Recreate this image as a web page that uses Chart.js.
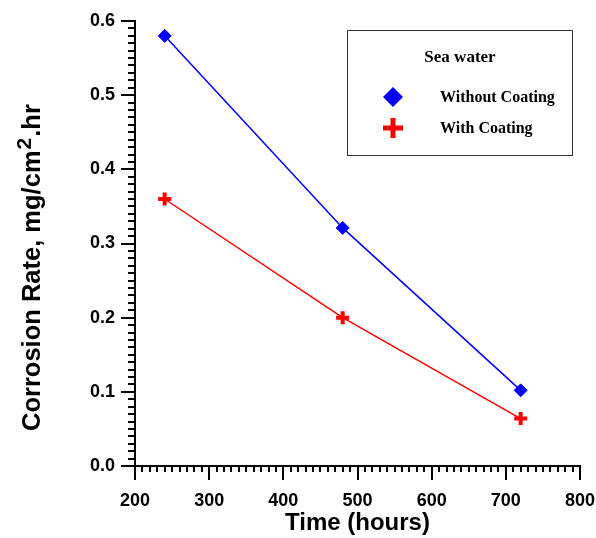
<!DOCTYPE html>
<html>
<head>
<meta charset="utf-8">
<script src="https://cdn.jsdelivr.net/npm/chart.js@4/dist/chart.umd.min.js"></script>
<style>
  html, body { margin: 0; padding: 0; background: #fff; }
  #wrap { width: 596px; height: 538px; position: relative; }
</style>
</head>
<body>
<div id="wrap"><canvas id="c" width="596" height="538"></canvas></div>
<script>
// ---- data ----
const timeHours = [240, 480, 720];
const withoutCoating = [0.58, 0.321, 0.102];
const withCoating = [0.36, 0.2, 0.064];
const seriesLabels = ['Without Coating', 'With Coating'];
const legendTitle = 'Sea water';
const xTitle = 'Time (hours)';
const yTitleParts = ['Corrosion Rate, mg/cm', '2', '.hr'];
const xTicks = [200, 300, 400, 500, 600, 700, 800];
const yTicks = [0.0, 0.1, 0.2, 0.3, 0.4, 0.5, 0.6];

const SANS = '"Liberation Sans", Arial, sans-serif';
const SERIF = '"Liberation Serif", "Times New Roman", serif';

function toPoints(xs, ys) { return xs.map((x, i) => ({ x: x, y: ys[i] })); }

function drawMarker(ctx, style, x, y, r, color, lw) {
  ctx.save();
  ctx.fillStyle = color;
  ctx.strokeStyle = color;
  if (style === 'rectRot') {
    ctx.beginPath();
    ctx.moveTo(x, y - r); ctx.lineTo(x + r, y); ctx.lineTo(x, y + r); ctx.lineTo(x - r, y);
    ctx.closePath(); ctx.fill();
  } else {
    ctx.lineWidth = lw;
    ctx.beginPath();
    ctx.moveTo(x - r, y); ctx.lineTo(x + r, y);
    ctx.moveTo(x, y - r); ctx.lineTo(x, y + r);
    ctx.stroke();
  }
  ctx.restore();
}

const axisDecor = {
  id: 'axisDecor',
  afterDraw(chart) {
    const ctx = chart.ctx;
    const xs = chart.scales.x, ys = chart.scales.y;
    const ca = chart.chartArea;
    ctx.save();
    ctx.strokeStyle = '#000';
    ctx.lineWidth = 2;
    // x ticks (every 10, major every 100), pointing down
    for (let v = xs.min; v <= xs.max; v += 10) {
      const px = Math.round(xs.getPixelForValue(v));
      const major = v % 100 === 0;
      ctx.beginPath();
      ctx.moveTo(px, ca.bottom);
      ctx.lineTo(px, ca.bottom + (major ? 14 : 6));
      ctx.stroke();
    }
    // y ticks (every 0.01, major every 0.1), pointing left
    for (let i = 0; i <= 60; i++) {
      const py = Math.round(ys.getPixelForValue(i / 100));
      const major = i % 10 === 0;
      ctx.beginPath();
      ctx.moveTo(ca.left, py);
      ctx.lineTo(ca.left - (major ? 14 : 7), py);
      ctx.stroke();
    }
    // y axis title with superscript
    ctx.translate(40, 431);
    ctx.rotate(-Math.PI / 2);
    ctx.fillStyle = '#000';
    ctx.textBaseline = 'alphabetic';
    ctx.textAlign = 'left';
    ctx.font = 'bold 25.5px ' + SANS;
    let x = 0;
    ctx.fillText(yTitleParts[0], x, 0);
    x += ctx.measureText(yTitleParts[0]).width + 1;
    ctx.font = 'bold 21px ' + SANS;
    ctx.fillText(yTitleParts[1], x, -9);
    x += ctx.measureText(yTitleParts[1]).width + 1;
    ctx.font = 'bold 25.5px ' + SANS;
    ctx.fillText(yTitleParts[2], x, 0);
    ctx.restore();

    // legend box
    ctx.save();
    const bx = 347.5, by = 30.5, bw = 225, bh = 125;
    ctx.fillStyle = '#fff';
    ctx.fillRect(bx, by, bw, bh);
    ctx.strokeStyle = '#333';
    ctx.lineWidth = 1;
    ctx.strokeRect(bx, by, bw, bh);
    ctx.fillStyle = '#000';
    ctx.font = 'bold 17px ' + SERIF;
    ctx.textAlign = 'center';
    ctx.textBaseline = 'middle';
    ctx.fillText(legendTitle, 460, 58);
    ctx.textAlign = 'left';
    ctx.font = 'bold 16px ' + SERIF;
    const rowsY = [97, 128];
    chart.data.datasets.forEach((ds, i) => {
      drawMarker(ctx, ds.pointStyle, 393, rowsY[i], 10, ds.borderColor, 5);
      ctx.fillStyle = '#000';
      ctx.fillText(ds.label, 440, rowsY[i] + 1);
    });
    ctx.restore();
  }
};

new Chart(document.getElementById('c'), {
  type: 'line',
  data: {
    datasets: [
      {
        label: seriesLabels[0],
        data: toPoints(timeHours, withoutCoating),
        borderColor: '#0000ff',
        backgroundColor: '#0000ff',
        borderWidth: 1.5,
        pointStyle: 'rectRot',
        pointRadius: 6.5,
        pointBorderWidth: 1,
        pointBackgroundColor: '#0000ff',
        tension: 0
      },
      {
        label: seriesLabels[1],
        data: toPoints(timeHours, withCoating),
        borderColor: '#ff0000',
        backgroundColor: '#ff0000',
        borderWidth: 1.5,
        pointStyle: 'cross',
        pointRadius: 6.5,
        pointBorderWidth: 4,
        tension: 0
      }
    ]
  },
  options: {
    responsive: false,
    animation: false,
    devicePixelRatio: 1,
    layout: { autoPadding: false, padding: { top: 21, right: 16, left: 0, bottom: 0 } },
    plugins: { legend: { display: false }, tooltip: { enabled: false } },
    scales: {
      x: {
        type: 'linear',
        min: xTicks[0],
        max: xTicks[xTicks.length - 1],
        afterFit(s) { s.height = 72; s.paddingLeft = 0; s.paddingRight = 0; },
        afterBuildTicks(s) { s.ticks = xTicks.map(v => ({ value: v })); },
        grid: { display: false, drawTicks: false },
        border: { display: true, color: '#000', width: 2 },
        ticks: {
          padding: 24,
          color: '#000',
          font: { family: SANS, size: 18, weight: 'bold' },
          maxRotation: 0,
          autoSkip: false
        },
        title: {
          display: true,
          text: xTitle,
          color: '#000',
          font: { family: SANS, size: 24, weight: 'bold' },
          padding: { top: 0, bottom: 0 }
        }
      },
      y: {
        type: 'linear',
        min: yTicks[0],
        max: yTicks[yTicks.length - 1],
        afterFit(s) { s.width = 135; s.paddingTop = 0; s.paddingBottom = 0; },
        afterBuildTicks(s) { s.ticks = yTicks.map(v => ({ value: v })); },
        grid: { display: false, drawTicks: false },
        border: { display: true, color: '#000', width: 2 },
        ticks: {
          padding: 20,
          color: '#000',
          font: { family: SANS, size: 18, weight: 'bold' },
          callback: v => Number(v).toFixed(1),
          autoSkip: false
        }
      }
    }
  },
  plugins: [axisDecor]
});
</script>
</body>
</html>
